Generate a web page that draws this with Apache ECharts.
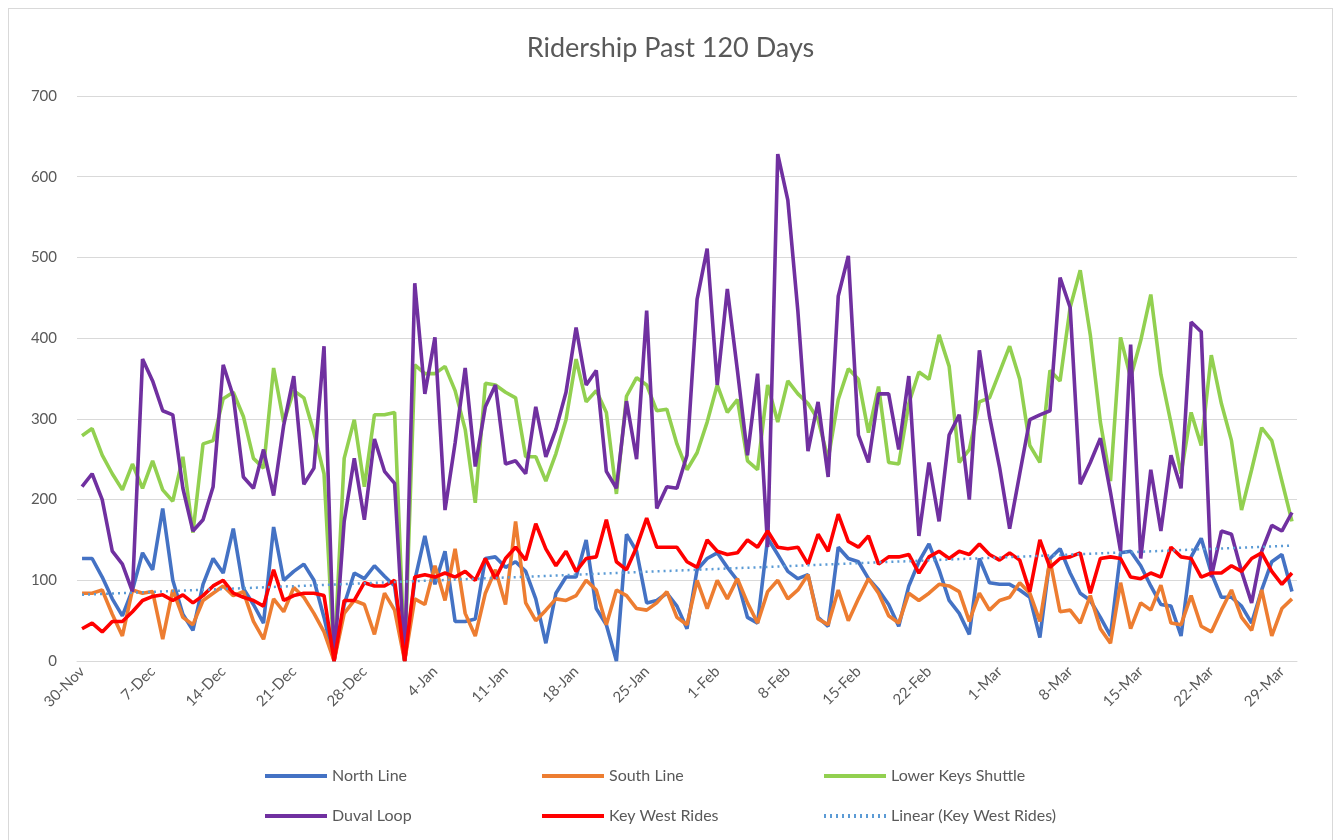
<!DOCTYPE html>
<html>
<head>
<meta charset="utf-8">
<title>Ridership Past 120 Days</title>
<script src="https://cdn.jsdelivr.net/npm/echarts@6/dist/echarts.min.js"></script>
<style>
  html, body { margin: 0; padding: 0; background: #fff; }
  #frame {
    position: absolute; left: 8px; top: 8px; width: 1325px; height: 840px;
    border: 1px solid #d9d9d9; box-sizing: border-box;
  }
  #main { position: absolute; left: 0; top: 0; width: 1341px; height: 840px; }
</style>
</head>
<body>
<div id="frame"></div>
<div id="main"></div>
<script>
// dates 30-Nov .. 30-Mar, one point per day
var startDay = Date.UTC(2020, 10, 30);
var dayCount = 121;
var monthNames = ['Jan','Feb','Mar','Apr','May','Jun','Jul','Aug','Sep','Oct','Nov','Dec'];
var days = [];
for (var d = 0; d < dayCount; d++) {
  var dt = new Date(startDay + d * 86400000);
  days.push(dt.getUTCDate() + '-' + monthNames[dt.getUTCMonth()]);
}

// riders per day
var northLine = [127,127,104,77,56,88,134,113,189,100, 58,38,95,127,109,164,90,70,47,166,
  100,111,120,100,54,0,70,109,102,118, 105,93,0,100,155,95,136,49,49,52,
  127,129,116,123,111,77,22,84,104,104, 150,65,45,0,157,136,72,75,84,68,
  40,113,127,134,116,100,54,47,152,132, 111,102,107,54,43,141,127,123,102,88,
  70,43,93,123,145,113,75,59,33,127, 97,95,95,88,79,29,127,139,109,84,
  75,54,31,134,136,118,93,70,68,31, 129,152,109,79,79,68,47,88,123,132, 86];

var southLine = [84,84,88,58,31,88,84,86,27,88, 54,45,75,84,93,81,86,49,27,77,
  61,91,79,59,36,0,59,75,70,33, 84,63,0,77,70,118,75,139,59,31,
  84,113,70,173,72,50,63,77,75,81, 100,88,45,88,81,65,63,72,86,54,
  45,100,65,100,77,102,72,47,86,100, 77,88,107,52,45,88,50,77,102,84,
  56,47,84,75,84,95,93,86,49,84, 63,75,79,97,84,49,125,61,63,47,
  81,40,22,97,40,72,63,94,47,45, 81,43,36,63,88,54,38,88,31,65, 77];

var lowerKeys = [279,288,255,232,212,244,214,248,212,198, 253,159,269,273,325,333,303,251,239,363,
  296,335,326,283,232,0,251,299,216,305, 305,308,0,367,356,356,365,335,287,196,
  344,342,333,326,253,253,223,257,299,374, 321,335,308,207,328,351,342,310,312,269,
  237,258,296,342,308,324,248,237,342,296, 347,331,319,299,250,324,362,349,283,340,
  246,244,319,358,349,404,365,246,262,321, 326,358,390,349,267,246,360,347,438,484,
  404,296,223,401,351,397,454,355,295,232, 308,267,379,319,273,187,237,289,273,223, 173];

var duvalLoop = [216,232,200,136,120,86,374,347,310,305, 214,161,175,216,367,328,228,214,262,205,
  292,353,219,239,390,0,173,251,175,275, 235,220,0,468,331,401,187,270,363,241,
  315,342,244,248,232,315,253,287,333,413, 342,360,235,214,322,250,434,189,216,214,
  255,448,511,342,461,360,255,356,141,628, 571,433,260,321,228,452,502,280,246,331,
  331,262,353,155,246,173,280,305,200,385, 303,240,164,232,299,305,310,475,438,219,
  246,276,209,136,392,127,237,161,255,214, 420,408,104,161,157,111,72,136,168,161, 184];

var keyWest = [40,47,36,49,49,61,75,80,82,75, 82,72,81,93,100,84,79,75,68,113,
  75,81,84,84,81,0,75,75,97,93, 93,100,0,104,107,104,109,104,111,100,
  127,102,127,141,125,170,139,118,136,111, 127,129,175,123,113,141,177,141,141,141,
  123,116,150,136,132,134,150,141,161,141, 139,141,120,157,136,182,148,141,155,120,
  129,129,132,109,129,136,127,136,132,145, 132,125,134,125,86,150,116,127,129,134,
  84,127,129,127,104,102,109,104,141,129, 127,104,109,109,118,111,127,134,111,95, 109];

// least squares trend of Key West Rides, like the Excel trendline
function linearTrend(vals) {
  var n = vals.length, sx = 0, sy = 0, sxy = 0, sxx = 0;
  for (var i = 0; i < n; i++) {
    sx += i; sy += vals[i]; sxy += i * vals[i]; sxx += i * i;
  }
  var b = (n * sxy - sx * sy) / (n * sxx - sx * sx);
  var a = (sy - b * sx) / n;
  var out = [];
  for (var j = 0; j < n; j++) out.push(+(a + b * j).toFixed(2));
  return out;
}
var keyWestTrend = linearTrend(keyWest);

var font = 'Lato, "Open Sans", sans-serif';
var grey = '#595959';

function line(name, data, color) {
  return {
    name: name, type: 'line', data: data, symbol: 'none',
    lineStyle: { color: color, width: 3.6 }, itemStyle: { color: color }
  };
}

// one legend per entry so the two rows line up in columns
function legendAt(name, left, top) {
  return {
    data: [name], left: left, top: top,
    itemWidth: 62, itemHeight: 14,
    itemStyle: { opacity: 0 },
    lineStyle: { width: 4 },
    textStyle: { color: grey, fontSize: 16, fontFamily: font }
  };
}

var chart = echarts.init(document.getElementById('main'));
chart.setOption({
  animation: false,
  title: {
    text: 'Ridership Past 120 Days', left: 'center', top: 30,
    textStyle: { color: grey, fontSize: 27, fontWeight: 'normal', fontFamily: font }
  },
  legend: [
    legendAt('North Line', 258, 763),
    legendAt('South Line', 535, 763),
    legendAt('Lower Keys Shuttle', 817, 763),
    legendAt('Duval Loop', 258, 803),
    legendAt('Key West Rides', 535, 803),
    legendAt('Linear (Key West Rides)', 817, 803)
  ],
  grid: { left: 77, right: 44, top: 96, bottom: 179 },
  xAxis: {
    type: 'category', data: days, boundaryGap: true,
    axisLine: { lineStyle: { color: '#d9d9d9', width: 1 } },
    axisTick: { interval: 6, length: 5, lineStyle: { color: '#d9d9d9' } },
    axisLabel: { interval: 6, rotate: 45, color: grey, fontSize: 15, fontFamily: font, margin: 8 }
  },
  yAxis: {
    type: 'value', min: 0, max: 700, interval: 100,
    axisLine: { show: false }, axisTick: { show: false },
    axisLabel: { color: grey, fontSize: 15, fontFamily: font, margin: 20 },
    splitLine: { lineStyle: { color: '#d9d9d9', width: 1 } }
  },
  series: [
    line('North Line', northLine, '#4472C4'),
    line('South Line', southLine, '#ED7D31'),
    line('Lower Keys Shuttle', lowerKeys, '#92D050'),
    line('Duval Loop', duvalLoop, '#7030A0'),
    line('Key West Rides', keyWest, '#FF0000'),
    {
      name: 'Linear (Key West Rides)', type: 'line', data: keyWestTrend, symbol: 'none',
      lineStyle: { color: '#5B9BD5', width: 2.5, type: [2, 4] }, itemStyle: { color: '#5B9BD5' }
    }
  ]
});
</script>
</body>
</html>
